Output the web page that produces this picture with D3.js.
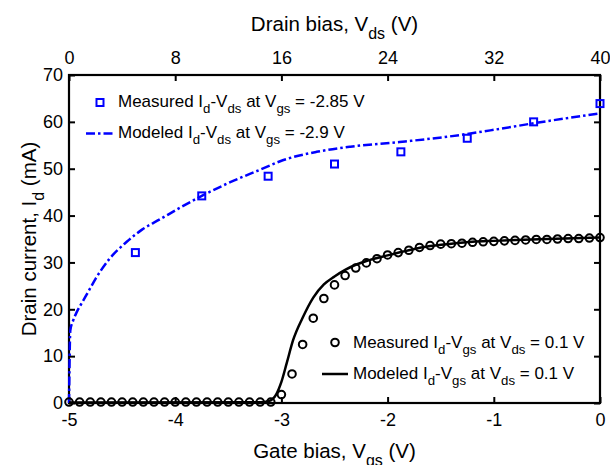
<!DOCTYPE html>
<html><head><meta charset="utf-8">
<script src="https://cdn.jsdelivr.net/npm/d3@7"></script>
<style>body{margin:0;background:#fff}svg{display:block;font-family:"Liberation Sans",Arial,sans-serif}</style>
</head><body><svg id="c" width="610" height="465"></svg>
<script>
// ---- data ----
const gateTicks = [-5, -4, -3, -2, -1, 0];
const drainTicks = [0, 8, 16, 24, 32, 40];
const currentTicks = [0, 10, 20, 30, 40, 50, 60, 70];

const vdsMeasured = [5, 10, 15, 20, 25, 30, 35, 40];
const idVdsMeasured = [32.1, 44.2, 48.4, 51.0, 53.6, 56.5, 60.0, 63.9];

const vdsModel = [0, 0.03, 0.06, 0.1, 0.3, 0.6, 1.0, 1.5, 2, 3, 4.35, 5.5, 6.85, 8.5, 10.07, 11.9, 14.4, 16.1, 18.65, 21.2, 24.9, 28.7, 32, 35, 40];
const idVdsModel = [0, 6, 12, 15.5, 17.5, 19.5, 21.5, 24, 26.5, 30.6, 34.4, 37.0, 39.2, 41.9, 44.3, 46.8, 49.8, 51.8, 53.6, 54.7, 55.7, 56.9, 58.3, 59.7, 61.8];

const vgsMeasured = [-5.0,-4.9,-4.8,-4.7,-4.6,-4.5,-4.4,-4.3,-4.2,-4.1,-4.0,-3.9,-3.8,-3.7,-3.6,-3.5,-3.4,-3.3,-3.2,-3.1,
  -3.0,-2.9,-2.8,-2.7,-2.6,-2.5,-2.4,-2.3,-2.2,-2.1,-2.0,-1.9,-1.8,-1.7,-1.6,-1.5,-1.4,-1.3,-1.2,-1.1,-1.0,
  -0.9,-0.8,-0.7,-0.6,-0.5,-0.4,-0.3,-0.2,-0.1,0.0];
const idVgsMeasured = [0.2,0.2,0.2,0.2,0.2,0.2,0.2,0.2,0.2,0.2,0.2,0.2,0.2,0.2,0.2,0.2,0.2,0.2,0.2,0.2,
  1.8,6.2,12.5,18.1,22.3,25.2,27.2,28.8,29.9,30.8,31.6,32.1,32.6,33.2,33.6,33.9,34.0,34.1,34.3,34.4,34.5,
  34.6,34.7,34.8,34.9,34.9,35.0,35.1,35.1,35.2,35.3];

const vgsModel = [-5, -3.2, -3.12, -3.05, -3.0, -2.95, -2.89, -2.8, -2.7, -2.6, -2.5, -2.4, -2.3, -2.2, -2.0, -1.8, -1.6, -1.4, -1.2, -1.0, -0.5, 0];
const idVgsModel = [0.1, 0.15, 0.4, 1.8, 4.5, 8.5, 13.4, 18.2, 22.5, 25.3, 27.0, 28.4, 29.5, 30.3, 31.5, 32.6, 33.5, 34.0, 34.4, 34.6, 35.0, 35.3];

// ---- chart ----
const svg = d3.select("#c");
const X0 = 69, X1 = 600, Y0 = 403, Y1 = 75;
const xg = d3.scaleLinear().domain([-5, 0]).range([X0, X1]);
const xd = d3.scaleLinear().domain([0, 40]).range([X0, X1]);
const y = d3.scaleLinear().domain([0, 70]).range([Y0, Y1]);
const blue = "#0000ff";
const FS = 18;
const fmt = d => String(d);

function styleAxis(g){
  g.select(".domain").remove();
  g.selectAll(".tick line").attr("stroke","#000").attr("stroke-width",2);
  g.selectAll(".tick text").attr("font-size",FS).attr("fill","#000").attr("font-family","Liberation Sans, Arial, sans-serif");
}
svg.append("g").attr("transform",`translate(0,${Y0})`)
  .call(d3.axisBottom(xg).tickValues(gateTicks).tickFormat(fmt).tickSizeInner(-6).tickSizeOuter(0).tickPadding(10))
  .call(styleAxis);
svg.append("g").attr("transform",`translate(0,${Y1})`)
  .call(d3.axisTop(xd).tickValues(drainTicks).tickFormat(fmt).tickSizeInner(-6).tickSizeOuter(0).tickPadding(11))
  .call(styleAxis);
svg.append("g").attr("transform",`translate(${X0},0)`)
  .call(d3.axisLeft(y).tickValues(currentTicks).tickFormat(fmt).tickSizeInner(-6).tickSizeOuter(0).tickPadding(6))
  .call(styleAxis);
svg.append("g").attr("transform",`translate(${X1},0)`)
  .call(d3.axisRight(y).tickValues(currentTicks).tickFormat("").tickSizeInner(-6).tickSizeOuter(0))
  .call(styleAxis);
svg.append("rect").attr("x",X0).attr("y",Y1).attr("width",X1-X0).attr("height",Y0-Y1)
  .attr("fill","none").attr("stroke","#000").attr("stroke-width",2.2);

// rich text helper
function rich(parent, x, yy, parts, size, anchor, rotate){
  const t = parent.append("text").attr("x",x).attr("y",yy).attr("font-size",size).attr("fill","#000")
    .attr("text-anchor",anchor||"start");
  if(rotate) t.attr("transform",`rotate(-90,${x},${yy})`);
  let sub=false;
  parts.forEach(p=>{
    const isSub = Array.isArray(p);
    const txt = isSub ? p[0] : p;
    const ts = t.append("tspan").text(txt);
    if(isSub && !sub){ ts.attr("dy", size*0.38).attr("font-size", size*0.78); }
    else if(isSub){ ts.attr("font-size", size*0.78); }
    else if(!isSub && sub){ ts.attr("dy", -size*0.38); }
    sub = isSub;
  });
  return t;
}

// lines
const lineD = d3.line().x((d,i)=>xd(vdsModel[i])).y(d=>y(d)).curve(d3.curveMonotoneX);
svg.append("path").attr("d", lineD(idVdsModel)).attr("fill","none").attr("stroke",blue)
  .attr("stroke-width",2.5).attr("stroke-dasharray","9,3,2.5,3");
const lineG = d3.line().x((d,i)=>xg(vgsModel[i])).y(d=>y(d)).curve(d3.curveMonotoneX);
svg.append("path").attr("d", lineG(idVgsModel)).attr("fill","none").attr("stroke","#000").attr("stroke-width",2.5);

// markers
svg.append("g").selectAll("circle").data(idVgsMeasured).join("circle")
  .attr("cx",(d,i)=>xg(vgsMeasured[i])).attr("cy",d=>y(d)).attr("r",3.8)
  .attr("fill","none").attr("stroke","#000").attr("stroke-width",2);
svg.append("g").selectAll("rect").data(idVdsMeasured).join("rect")
  .attr("x",(d,i)=>xd(vdsMeasured[i])-3.5).attr("y",d=>y(d)-3.5).attr("width",7).attr("height",7)
  .attr("fill","none").attr("stroke",blue).attr("stroke-width",2);

// legends
const LF = 17;
const lg = svg.append("g");
lg.append("rect").attr("x",96.5).attr("y",99).attr("width",7).attr("height",7).attr("fill","none").attr("stroke",blue).attr("stroke-width",2);
rich(lg,118,107,["Measured I",["d"],"-V",["ds"]," at V",["gs"]," = -2.85 V"],LF);
lg.append("line").attr("x1",86).attr("x2",115).attr("y1",133.5).attr("y2",133.5).attr("stroke",blue).attr("stroke-width",2.5).attr("stroke-dasharray","9,3,2.5,3");
rich(lg,118,138,["Modeled I",["d"],"-V",["ds"]," at V",["gs"]," = -2.9 V"],LF);

lg.append("circle").attr("cx",335).attr("cy",342.5).attr("r",3.8).attr("fill","none").attr("stroke","#000").attr("stroke-width",2);
rich(lg,353,348,["Measured I",["d"],"-V",["gs"]," at V",["ds"]," = 0.1 V"],LF);
lg.append("line").attr("x1",322).attr("x2",348).attr("y1",374).attr("y2",374).attr("stroke","#000").attr("stroke-width",2.5);
rich(lg,353,379,["Modeled I",["d"],"-V",["gs"]," at V",["ds"]," = 0.1 V"],LF);

// axis titles
rich(svg,334.5,31,["Drain bias, V",["ds"]," (V)"],20.5,"middle");
rich(svg,334.5,458,["Gate bias, V",["gs"]," (V)"],20.5,"middle");
rich(svg,36,239,["Drain current, I",["d"]," (mA)"],20.5,"middle",true);
</script></body></html>
